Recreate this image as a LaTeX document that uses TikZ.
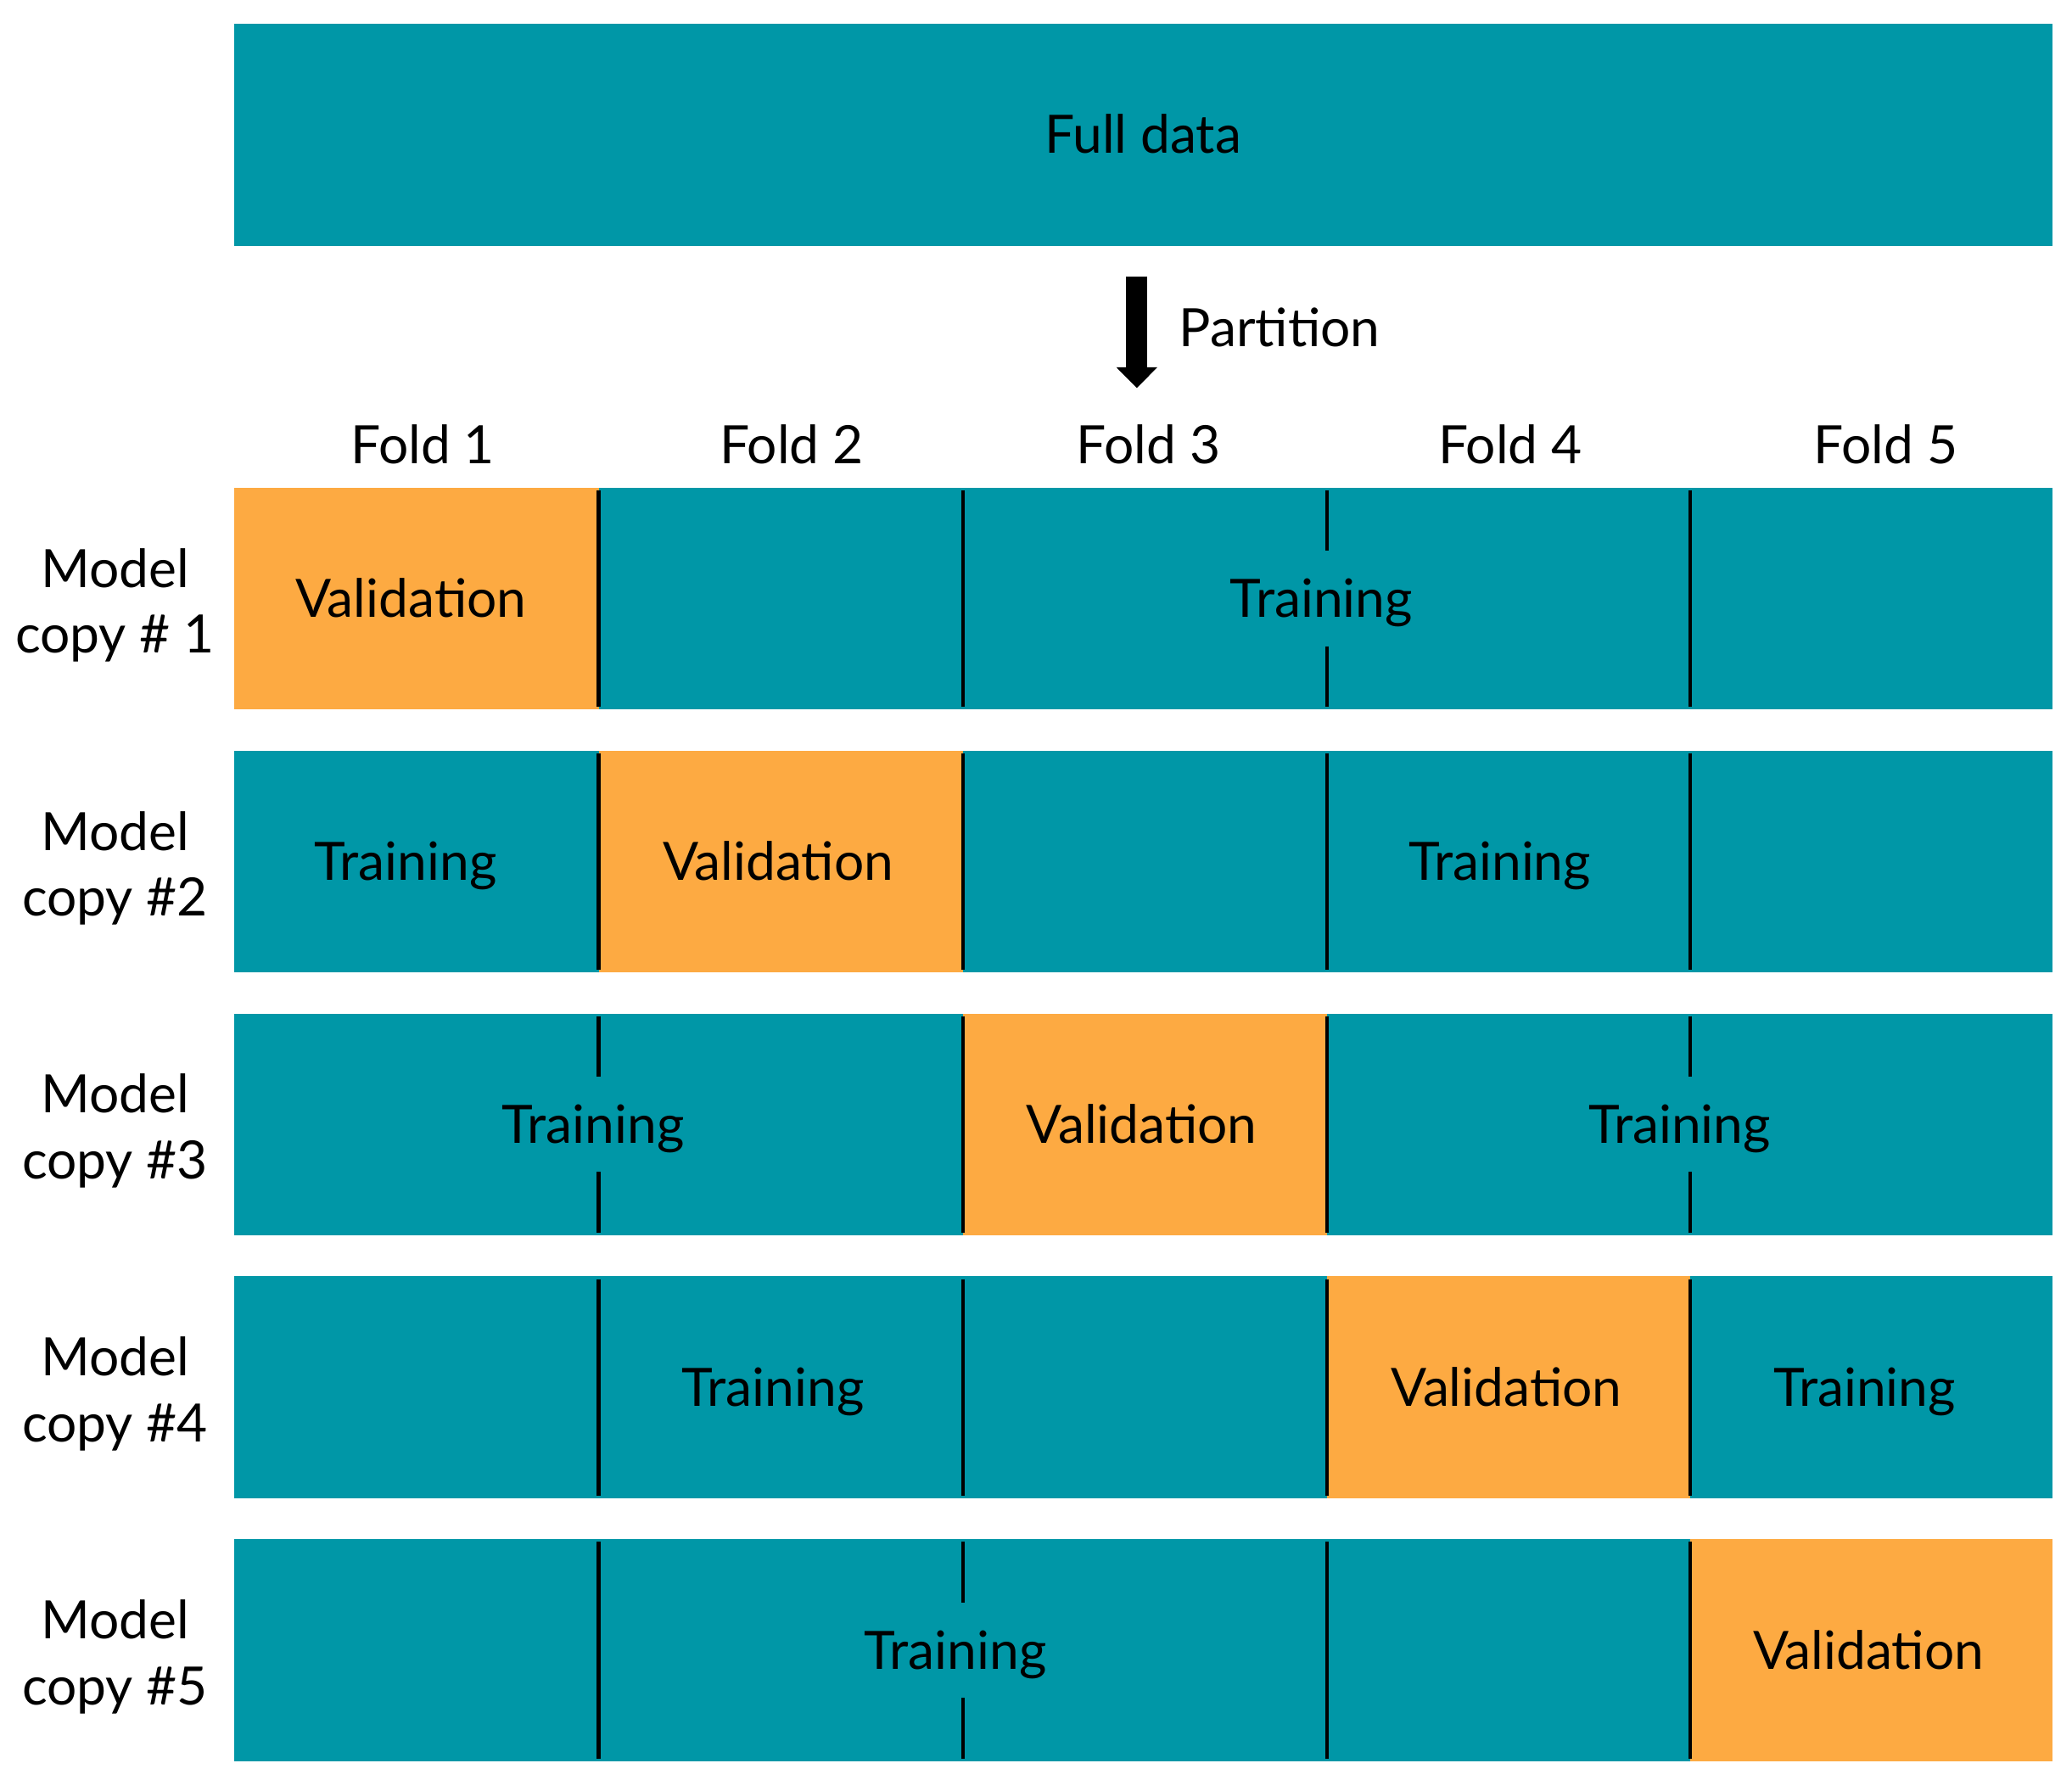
\documentclass[tikz,border=0pt]{standalone}
\usepackage{fontspec}
\setmainfont{Lato}
\usetikzlibrary{arrows.meta}
\definecolor{foldteal}{RGB}{0,151,167}
\definecolor{foldorange}{RGB}{253,170,66}
\tikzset{every picture/.style={line width=0.75pt}}
\tikzset{
	databar/.style={fill=foldteal, draw=none},
	valbar/.style={fill=foldorange, draw=none},
	foldsep/.style={draw=black, line width=1.3pt},
	lbl/.style={anchor=base, inner sep=0.75pt, font=\fontsize{20}{24.9}\selectfont},
	rowlbl/.style={anchor=center, align=center, inner sep=0.75pt, font=\fontsize{20}{24.9}\selectfont}
}
\begin{document}
\begin{tikzpicture}[x=0.5pt,y=0.5pt,yscale=-1,xscale=1]
	\useasboundingbox (0,0) rectangle (1568,1347);
	
	%Shape: Rectangle (full data)
	\draw [databar] (177,18) rectangle (1553,186);
	
	%Straight Lines (partition arrow)
	\coordinate (partTop) at (860.3,209.4);
	\coordinate (partTip) at (860.3,293.6);
	\draw [line width=8pt, -{Triangle[width=15.5pt,length=7.8pt,line width=0pt]}] (partTop) -- (partTip);
	
	%Shape: Rectangle (row 1)
	\draw [databar] (177,369) rectangle (1553,537);
	\draw [valbar] (177,369) rectangle (453,537);
	%Straight Lines
	\draw [foldsep] (453,371) -- (453,535);
	\draw [foldsep] (729,371) -- (729,535);
	\draw [foldsep] (1004,371) -- (1004,417) (1004,489) -- (1004,535);
	\draw [foldsep] (1279,371) -- (1279,535);
	
	%Shape: Rectangle (row 2)
	\draw [databar] (177,568) rectangle (1553,736);
	\draw [valbar] (453,568) rectangle (729,736);
	%Straight Lines
	\draw [foldsep] (453,570) -- (453,734);
	\draw [foldsep] (729,570) -- (729,734);
	\draw [foldsep] (1004,570) -- (1004,734);
	\draw [foldsep] (1279,570) -- (1279,734);
	
	%Shape: Rectangle (row 3)
	\draw [databar] (177,767) rectangle (1553,935);
	\draw [valbar] (729,767) rectangle (1004,935);
	%Straight Lines
	\draw [foldsep] (453,769) -- (453,815) (453,887) -- (453,933);
	\draw [foldsep] (729,769) -- (729,933);
	\draw [foldsep] (1004,769) -- (1004,933);
	\draw [foldsep] (1279,769) -- (1279,815) (1279,887) -- (1279,933);
	
	%Shape: Rectangle (row 4)
	\draw [databar] (177,966) rectangle (1553,1134);
	\draw [valbar] (1004,966) rectangle (1279,1134);
	%Straight Lines
	\draw [foldsep] (453,968) -- (453,1132);
	\draw [foldsep] (729,968) -- (729,1132);
	\draw [foldsep] (1004,968) -- (1004,1132);
	\draw [foldsep] (1279,968) -- (1279,1132);
	
	%Shape: Rectangle (row 5)
	\draw [databar] (177,1165) rectangle (1553,1333);
	\draw [valbar] (1279,1165) rectangle (1553,1333);
	%Straight Lines
	\draw [foldsep] (453,1167) -- (453,1331);
	\draw [foldsep] (729,1167) -- (729,1213) (729,1285) -- (729,1331);
	\draw [foldsep] (1004,1167) -- (1004,1331);
	\draw [foldsep] (1279,1167) -- (1279,1331);
	
	% Text Node
	\draw (865,116) node [lbl] (fulldata) {Full data};
	% Text Node
	\draw (890,262) node [lbl, anchor=base west] (partition) {Partition};
	% Text Node
	\draw (320,351) node [lbl] (fold1) {Fold 1};
	% Text Node
	\draw (599,351) node [lbl] (fold2) {Fold 2};
	% Text Node
	\draw (869,351) node [lbl] (fold3) {Fold 3};
	% Text Node
	\draw (1143,351) node [lbl] (fold4) {Fold 4};
	% Text Node
	\draw (1427,351) node [lbl] (fold5) {Fold 5};
	
	% Text Node
	\draw (87,458) node [rowlbl] (model1) {Model\\copy \# 1};
	% Text Node
	\draw (87,657) node [rowlbl] (model2) {Model\\copy \#2};
	% Text Node
	\draw (87,856) node [rowlbl] (model3) {Model\\copy \#3};
	% Text Node
	\draw (87,1055) node [rowlbl] (model4) {Model\\copy \#4};
	% Text Node
	\draw (87,1254) node [rowlbl] (model5) {Model\\copy \#5};
	
	% Text Node
	\draw (311,467) node [lbl] (val1) {Validation};
	% Text Node
	\draw (1000,467) node [lbl] (train1) {Training};
	% Text Node
	\draw (307,666) node [lbl] (train2a) {Training};
	% Text Node
	\draw (589,666) node [lbl] (val2) {Validation};
	% Text Node
	\draw (1135,666) node [lbl] (train2b) {Training};
	% Text Node
	\draw (449,865) node [lbl] (train3a) {Training};
	% Text Node
	\draw (864,865) node [lbl] (val3) {Validation};
	% Text Node
	\draw (1271,865) node [lbl] (train3b) {Training};
	% Text Node
	\draw (585,1064) node [lbl] (train4a) {Training};
	% Text Node
	\draw (1140,1064) node [lbl] (val4) {Validation};
	% Text Node
	\draw (1411,1064) node [lbl] (train4b) {Training};
	% Text Node
	\draw (723,1263) node [lbl] (train5) {Training};
	% Text Node
	\draw (1414,1263) node [lbl] (val5) {Validation};
	
\end{tikzpicture}
\end{document}
